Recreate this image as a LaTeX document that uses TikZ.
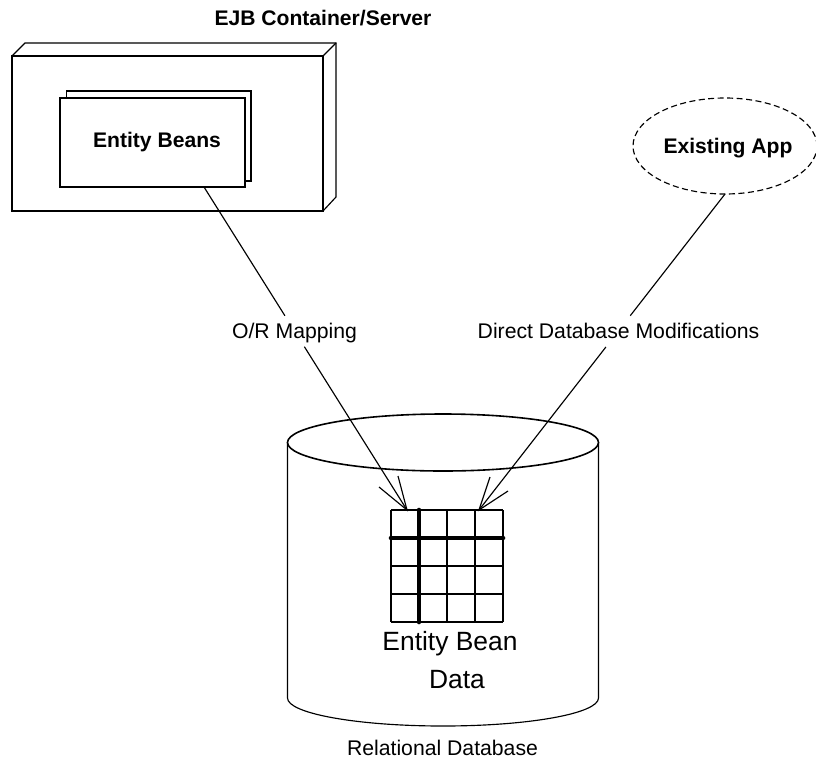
\documentclass[tikz,border=0pt]{standalone}
\usepackage{fontspec}
\setmainfont{Liberation Sans}
\usetikzlibrary{calc,shapes.geometric}
\tikzset{
  thinline/.style={line width=1.15pt,black,line join=miter},
  frontline/.style={line width=1.6pt,black,line join=miter},
  thickline/.style={line width=4.7pt,black,line cap=round},
  boldlabel/.style={font=\fontsize{21.1}{24}\selectfont\bfseries,inner sep=0pt,anchor=base},
  plainlabel/.style={font=\fontsize{21.2}{24}\selectfont,inner sep=0pt,anchor=base},
  largelabel/.style={font=\fontsize{26.4}{30}\selectfont,inner sep=0pt,anchor=base},
}
\begin{document}
\begin{tikzpicture}[x=1pt,y=-1pt]
\useasboundingbox (0,0) rectangle (816,758);
% container box
\draw[thinline] (12,56) -- (25,43) -- (336,43) -- (336,197) -- (323,211);
\draw[thinline] (323,56) -- (336,43);
\draw[frontline] (12,56) rectangle (323,211);
% entity bean boxes
\draw[thinline,fill=white] (66.5,91) rectangle (251,181);
\node[draw,frontline,fill=white,minimum width=185pt,minimum height=89pt,inner sep=0pt] (beans) at (152.5,142.5) {};
\node[boldlabel] (beanstext) at (157,147) {Entity Beans};
\node[boldlabel] (title) at (323,25) {EJB Container/Server};
% existing app
\node[draw,thinline,dashed,dash pattern=on 6pt off 3.5pt,ellipse,minimum width=184pt,minimum height=96pt,inner sep=0pt] (app) at (725,146) {};
\node[boldlabel] (apptext) at (728,153) {Existing App};
% database
\coordinate (dbTL) at (287.5,442.5);
\coordinate (dbTR) at (598.5,442.5);
\coordinate (dbBL) at (287.5,698);
\coordinate (dbBR) at (598.5,698);
\draw[thinline] (dbTL) -- (dbBL) arc[start angle=180,end angle=360,x radius=155.5pt,y radius=28pt] -- (dbTR);
\draw[frontline] (443,442.5) ellipse[x radius=155.5pt,y radius=28.5pt];
% grid
\foreach \x in {391,447,475,503} \draw[thinline] (\x,510) -- (\x,622);
\foreach \y in {510,566,594,622} \draw[thinline] (391,\y) -- (503,\y);
\draw[thickline] (419,510) -- (419,622);
\draw[thickline] (391,538) -- (503,538);
% connectors
\coordinate (lstart) at (204,187);
\coordinate (ltip) at (407,510);
\coordinate (lb1) at (379,487);
\coordinate (lb2) at (398,476);
\coordinate (rstart) at (725,194);
\coordinate (rtip) at (479,510);
\coordinate (rb1) at (490,477);
\coordinate (rb2) at (508,491);
\coordinate (lgapa) at ($(lstart)!0.3985!(ltip)$);
\coordinate (lgapb) at ($(lstart)!0.4944!(ltip)$);
\coordinate (rgapa) at ($(rstart)!0.3851!(rtip)$);
\coordinate (rgapb) at ($(rstart)!0.4842!(rtip)$);
\draw[thinline] (lstart) -- (lgapa);
\draw[thinline] (lgapb) -- (ltip);
\draw[thinline] (lb1) -- (ltip) -- (lb2);
\draw[thinline] (rstart) -- (rgapa);
\draw[thinline] (rgapb) -- (rtip);
\draw[thinline] (rb1) -- (rtip) -- (rb2);
% labels
\node[plainlabel] (orm) at (294.5,338) {O/R Mapping};
\node[plainlabel] (ddm) at (618.5,338) {Direct Database Modifications};
\node[largelabel] (ebd1) at (450,650) {Entity Bean};
\node[largelabel] (ebd2) at (457,688) {Data};
\node[plainlabel] (rdb) at (442.5,755) {Relational Database};
\end{tikzpicture}
\end{document}
